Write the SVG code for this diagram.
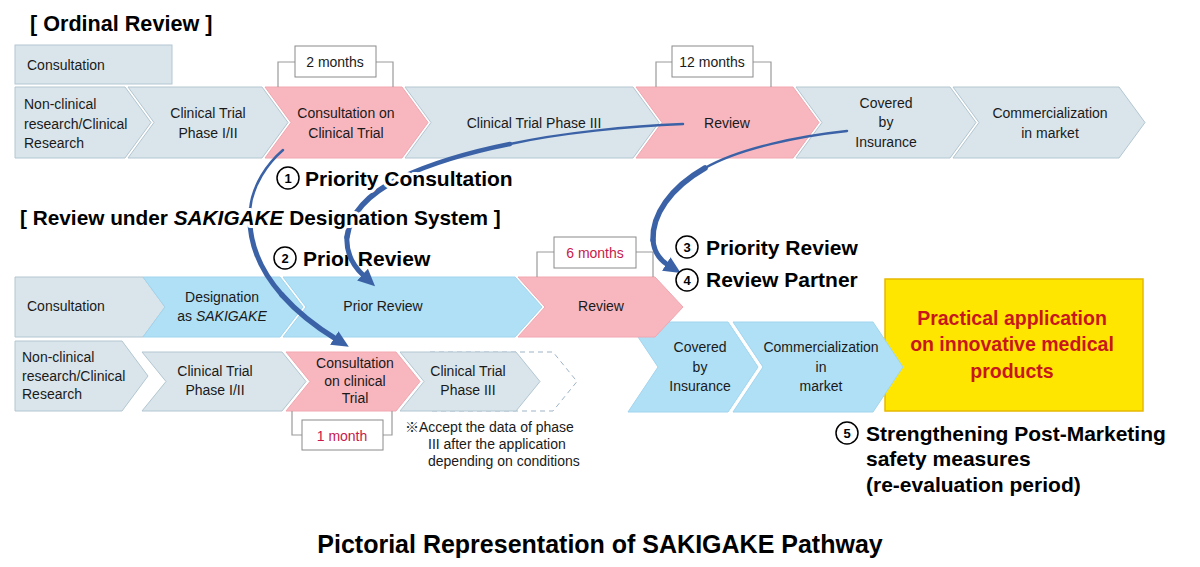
<svg xmlns="http://www.w3.org/2000/svg" width="1200" height="567" viewBox="0 0 1200 567">
<style>
.g{fill:#d9e5eb;stroke:#b3c6d1;stroke-width:1}
.p{fill:#f8b7bf;stroke:#f0a7b0;stroke-width:1}
.b{fill:#b0e0f6;stroke:#a0d5ee;stroke-width:1}
.t{font-family:"Liberation Sans",Arial,"Noto Sans CJK JP",sans-serif;font-size:14px;fill:#1a1a1a}
.c{text-anchor:middle}
.h{font-family:"Liberation Sans",Arial,sans-serif;font-weight:bold;fill:#000}
.halo{stroke:#fff;stroke-width:6;paint-order:stroke;stroke-linejoin:round}
.mb{fill:#fff;stroke:#8a8a8a;stroke-width:1}
.br{fill:none;stroke:#9a9a9a;stroke-width:1.2}
.red{fill:#c8194b}
.arr{fill:none;stroke:#3b62a6;stroke-linecap:round}
.nc{fill:#fff;stroke:#000;stroke-width:1.5}
.nt{font-family:"Liberation Sans",Arial,sans-serif;font-weight:bold;font-size:13px;text-anchor:middle;fill:#000}
.lb{font-family:"Liberation Sans",Arial,sans-serif;font-weight:bold;font-size:21px;fill:#000}
.yt{font-family:"Liberation Sans",Arial,sans-serif;font-weight:bold;font-size:19.5px;text-anchor:middle;fill:#c8161d}
</style>
<defs>
<marker id="ah" markerUnits="userSpaceOnUse" markerWidth="18" markerHeight="16" refX="2" refY="8" orient="auto">
<path d="M0,0 L17,8 L0,16 Z" fill="#3b62a6"/>
</marker>
</defs>

<!-- Titles -->
<text class="h" x="30" y="31" font-size="21.6">[ Ordinal Review ]</text>

<!-- Top row -->
<g id="top-consultation"><rect class="g" x="15" y="45" width="157" height="39"/><text class="t" x="27" y="70">Consultation</text></g>
<g id="top-nonclinical"><polygon class="g" points="15,87 125,87 151,122.5 125,158 15,158"/>
<text class="t" x="24" y="109">Non-clinical</text><text class="t" x="24" y="129">research/Clinical</text><text class="t" x="24" y="148">Research</text></g>
<g id="top-phase12"><polygon class="g" points="128,87 262,87 288,122.5 262,158 128,158 154,122.5"/>
<text class="t c" x="208" y="118">Clinical Trial</text><text class="t c" x="208" y="138">Phase I/II</text></g>
<g id="top-consult-trial"><polygon class="p" points="265,87 402,87 428,122.5 402,158 265,158 291,122.5"/>
<text class="t c" x="346" y="118">Consultation on</text><text class="t c" x="346" y="138">Clinical Trial</text></g>
<g id="top-phase3"><polygon class="g" points="405,87 633,87 659,122.5 633,158 405,158 431,122.5"/>
<text class="t c" x="534" y="128">Clinical Trial Phase III</text></g>
<g id="top-review"><polygon class="p" points="636,87 793,87 819,122.5 793,158 636,158 662,122.5"/>
<text class="t c" x="727" y="128">Review</text></g>
<g id="top-covered"><polygon class="g" points="796,87 950,87 976,122.5 950,158 796,158 822,122.5"/>
<text class="t c" x="886" y="108">Covered</text><text class="t c" x="886" y="127">by</text><text class="t c" x="886" y="147">Insurance</text></g>
<g id="top-commercial"><polygon class="g" points="953,87 1119,87 1145,122.5 1119,158 953,158 979,122.5"/>
<text class="t c" x="1050" y="118">Commercialization</text><text class="t c" x="1050" y="138">in market</text></g>

<g id="top-2months"><polyline class="br" points="278,87 278,62 295,62"/><polyline class="br" points="376,62 393,62 393,87"/>
<rect class="mb" x="295" y="46" width="81" height="31"/><text class="t c" x="335" y="67">2 months</text></g>
<g id="top-12months"><polyline class="br" points="656,87 656,62 672,62"/><polyline class="br" points="753,62 771,62 771,87"/>
<rect class="mb" x="672" y="46" width="81" height="31"/><text class="t c" x="712" y="67">12 months</text></g>

<!-- SAKIGAKE row A -->
<g id="sk-consultation"><polygon class="g" points="15,277 143,277 165,307 143,337 15,337"/><text class="t" x="27" y="311">Consultation</text></g>
<g id="sk-designation"><polygon class="b" points="143,277 280,277 303,307 280,337 143,337 165,307"/>
<text class="t c" x="222" y="302">Designation</text><text class="t c" x="222" y="321">as <tspan font-style="italic">SAKIGAKE</tspan></text></g>
<g id="sk-prior"><polygon class="b" points="283,277 515,277 542,307 515,337 283,337 306,307"/><text class="t c" x="383" y="311">Prior Review</text></g>

<!-- row B right (under pink review) -->
<g id="sk-yellow"><rect x="885" y="279" width="258" height="132" fill="#ffe600" stroke="#e6b800" stroke-width="1.5"/>
<text class="yt" x="1012" y="325">Practical application</text>
<text class="yt" x="1012" y="351">on innovative medical</text>
<text class="yt" x="1012" y="378">products</text></g>
<g id="sk-covered"><polygon class="b" points="628,322 728,322 758,367 728,412 628,412 658,367"/>
<text class="t c" x="700" y="352">Covered</text><text class="t c" x="700" y="372">by</text><text class="t c" x="700" y="391">Insurance</text></g>
<g id="sk-commercial"><polygon class="b" points="733,322 873,322 903,367 873,412 733,412 763,367"/>
<text class="t c" x="821" y="352">Commercialization</text><text class="t c" x="821" y="372">in</text><text class="t c" x="821" y="391">market</text></g>

<g id="sk-review"><polygon class="p" points="518,277 655,277 683,307 655,337 518,337 545,307"/><text class="t c" x="601" y="311">Review</text></g>
<g id="sk-6months"><polyline class="br" points="537,277 537,252 554,252"/><polyline class="br" points="636,252 653,252 653,277"/>
<rect class="mb" x="554" y="237" width="82" height="31"/><text class="t c red" x="595" y="258">6 months</text></g>

<!-- SAKIGAKE row B -->
<g id="sk-nonclinical"><polygon class="g" points="15,341 122,341 148,376 122,411 15,411"/>
<text class="t" x="22" y="362">Non-clinical</text><text class="t" x="22" y="381">research/Clinical</text><text class="t" x="22" y="399">Research</text></g>
<g id="sk-phase12"><polygon class="g" points="142,352 282,352 306,381.5 282,411 142,411 166,381.5"/>
<text class="t c" x="215" y="376">Clinical Trial</text><text class="t c" x="215" y="395">Phase I/II</text></g>
<g id="sk-consult-trial"><polygon class="p" points="286,352 396,352 420,381.5 396,411 286,411 310,381.5"/>
<text class="t c" x="355" y="368">Consultation</text><text class="t c" x="355" y="386">on clinical</text><text class="t c" x="355" y="403">Trial</text></g>
<g id="sk-phase3-dashed"><polygon points="430,352 553,352 577,381.5 553,411 430,411" fill="none" stroke="#9fb3c6" stroke-width="1" stroke-dasharray="5,4"/></g>
<g id="sk-phase3"><polygon class="g" points="400,352 516,352 540,381.5 516,411 400,411 424,381.5"/>
<text class="t c" x="468" y="376">Clinical Trial</text><text class="t c" x="468" y="395">Phase III</text></g>
<g id="sk-1month"><polyline class="br" points="292,411 292,435 302,435"/><polyline class="br" points="383,435 392,435 392,411"/>
<rect class="mb" x="302" y="420" width="81" height="30"/><text class="t c red" x="342" y="441">1 month</text></g>
<g id="sk-note"><text class="t" x="405" y="432" font-size="14.3"><tspan font-weight="bold">※</tspan>Accept the data of phase</text><text class="t" x="428" y="449" font-size="14.3">III after the application</text><text class="t" x="428" y="466" font-size="14.3">depending on conditions</text></g>

<!-- label 2 under arrows -->
<g id="label-2"><circle class="nc" cx="285" cy="258" r="11"/><text class="nt" x="285" y="263">2</text><text class="lb" x="303" y="266">Prior Review</text></g>

<!-- Connectors -->
<g id="connectors">
<path class="arr" stroke-width="2.5" d="M683,124 C630,126 560,133 510,144"/>
<path class="arr" stroke-width="4.5" d="M510,144 C470,152 430,164 400,178"/>
<path class="arr" stroke-width="5.5" d="M400,178 C370,193 350,213 347,237"/>
<path class="arr" stroke-width="5" d="M347,237 C346,252 352,265 364,276" marker-end="url(#ah)"/>

<path class="arr" stroke-width="2.5" d="M283,150 C268,163 252,185 250,210"/>
<path class="arr" stroke-width="5" d="M250,210 C248,240 258,268 282,295"/>
<path class="arr" stroke-width="5.5" d="M282,295 C298,313 318,328 336,339" marker-end="url(#ah)"/>

<path class="arr" stroke-width="2.5" d="M847,131 C800,136 740,148 705,168"/>
<path class="arr" stroke-width="5.5" d="M705,168 C670,188 652,215 653,240"/>
<path class="arr" stroke-width="5" d="M653,240 C654,252 660,260 668,265" marker-end="url(#ah)"/>
</g>

<!-- labels over arrows -->
<text class="h halo" x="20" y="225" font-size="20.8">[ Review under <tspan font-style="italic">SAKIGAKE</tspan> Designation System ]</text>
<g id="label-1"><circle class="nc" cx="288" cy="178" r="11"/><text class="nt" x="288" y="183">1</text><text class="lb halo" x="305" y="186">Priority Consultation</text></g>
<g id="label-3"><circle class="nc" cx="687" cy="247" r="11"/><text class="nt" x="687" y="252">3</text><text class="lb" x="706" y="255">Priority Review</text></g>
<g id="label-4"><circle class="nc" cx="687" cy="280" r="11"/><text class="nt" x="687" y="285">4</text><text class="lb" x="706" y="287">Review Partner</text></g>
<g id="label-5"><circle class="nc" cx="847" cy="433" r="11"/><text class="nt" x="847" y="438">5</text>
<text class="lb" x="866" y="441" font-size="21.4">Strengthening Post-Marketing</text><text class="lb" x="866" y="466" font-size="21.4">safety measures</text><text class="lb" x="866" y="492" font-size="21.4">(re-evaluation period)</text></g>

<text class="h c" x="600" y="553" font-size="25">Pictorial Representation of SAKIGAKE Pathway</text>
</svg>
